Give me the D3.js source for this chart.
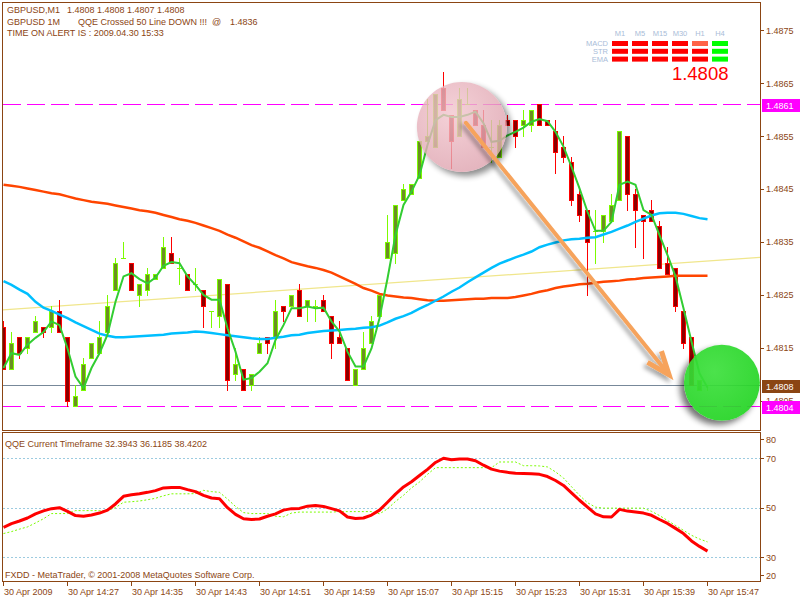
<!DOCTYPE html>
<html><head><meta charset="utf-8">
<script src="https://cdn.jsdelivr.net/npm/d3@7"></script>
<style>
html,body{margin:0;padding:0;background:#fff;}
svg{display:block;}
text{font-family:"Liberation Sans",Arial,sans-serif;}
</style></head>
<body>
<svg id="chart" width="800" height="600"></svg>
<script>
// ---------------- DATA ----------------
const timeTickBars = [0,8,16,24,32,40,48,56,64,72,80,88];
const timeTickLabels = ["30 Apr 2009","30 Apr 14:27","30 Apr 14:35","30 Apr 14:43","30 Apr 14:51","30 Apr 14:59","30 Apr 15:07","30 Apr 15:15","30 Apr 15:23","30 Apr 15:31","30 Apr 15:39","30 Apr 15:47"];
const priceTicks = [1.4875,1.4865,1.4855,1.4845,1.4835,1.4825,1.4815,1.4805];
const qqeTicks = [80,70,50,30,20];
const qqeLevels = [70,50,30];

const open = [1.4819,1.4811,1.4817,1.4815,1.4818,1.4819,1.4819,1.4822,1.4817,1.4804,1.4807,1.4813,1.4814,1.4818,1.4826,1.4832,1.4831,1.4825,1.4826,1.4828,1.4830,1.4833,1.4830,1.4829,1.4827,1.4826,1.4822,1.4821,1.4827,1.4810,1.4811,1.4808,1.4814,1.4817,1.4817,1.4823,1.4823,1.4826,1.4823,1.4823,1.4824,1.4821,1.4817,1.4815,1.4808,1.4811,1.4816,1.4821,1.4832,1.4833,1.4843,1.4844,1.4847,1.4854,1.4853,1.4864,1.4859,1.4855,1.4861,1.4860,1.4857,1.4853,1.4851,1.4858,1.4858,1.4857,1.4857,1.4861,1.4858,1.4856,1.4853,1.4850,1.4844,1.4841,1.4837,1.4837,1.4839,1.4843,1.4855,1.4844,1.4840,1.4841,1.4838,1.4831,1.4830,1.4822,1.4817,1.4807,1.4808];
const high = [1.4820,1.4818,1.4817,1.4817,1.4821,1.4819,1.4823,1.4824,1.4817,1.4808,1.4813,1.4816,1.4820,1.4825,1.4832,1.4835,1.4831,1.4827,1.4830,1.4829,1.4836,1.4836,1.4832,1.4829,1.4830,1.4826,1.4822,1.4828,1.4827,1.4815,1.4811,1.4810,1.4817,1.4817,1.4824,1.4823,1.4825,1.4827,1.4824,1.4824,1.4825,1.4821,1.4820,1.4815,1.4811,1.4818,1.4821,1.4825,1.4840,1.4842,1.4846,1.4846,1.4854,1.4862,1.4863,1.4867,1.4859,1.4864,1.4864,1.4860,1.4860,1.4858,1.4858,1.4859,1.4858,1.4860,1.4860,1.4861,1.4858,1.4858,1.4855,1.4851,1.4845,1.4841,1.4841,1.4840,1.4844,1.4856,1.4855,1.4845,1.4840,1.4843,1.4839,1.4834,1.4830,1.4822,1.4817,1.4809,1.4808];
const low = [1.4811,1.4811,1.4813,1.4814,1.4818,1.4817,1.4818,1.4818,1.4804,1.4804,1.4807,1.4813,1.4814,1.4818,1.4826,1.4832,1.4826,1.4823,1.4825,1.4828,1.4830,1.4831,1.4827,1.4826,1.4826,1.4819,1.4819,1.4819,1.4807,1.4809,1.4807,1.4807,1.4814,1.4814,1.4815,1.4820,1.4823,1.4821,1.4820,1.4820,1.4822,1.4813,1.4816,1.4809,1.4808,1.4811,1.4816,1.4821,1.4832,1.4831,1.4843,1.4844,1.4847,1.4854,1.4853,1.4860,1.4849,1.4855,1.4861,1.4857,1.4853,1.4850,1.4851,1.4857,1.4853,1.4855,1.4856,1.4857,1.4857,1.4848,1.4850,1.4842,1.4839,1.4825,1.4831,1.4835,1.4839,1.4843,1.4841,1.4834,1.4832,1.4839,1.4830,1.4829,1.4822,1.4815,1.4808,1.4807,1.4807];
const close = [1.4811,1.4816,1.4814,1.4817,1.4820,1.4818,1.4822,1.4818,1.4805,1.4806,1.4812,1.4816,1.4817,1.4823,1.4831,1.4832,1.4826,1.4827,1.4829,1.4829,1.4834,1.4831,1.4830,1.4826,1.4827,1.4823,1.4822,1.4828,1.4809,1.4812,1.4807,1.4810,1.4816,1.4816,1.4822,1.4822,1.4825,1.4821,1.4824,1.4823,1.4822,1.4816,1.4816,1.4809,1.4811,1.4815,1.4820,1.4825,1.4835,1.4842,1.4845,1.4846,1.4854,1.4855,1.4863,1.4860,1.4854,1.4862,1.4861,1.4857,1.4853,1.4853,1.4857,1.4857,1.4855,1.4858,1.4860,1.4857,1.4857,1.4852,1.4851,1.4843,1.4840,1.4835,1.4837,1.4840,1.4842,1.4856,1.4844,1.4841,1.4839,1.4839,1.4830,1.4829,1.4823,1.4816,1.4808,1.4809,1.4808];

// fast moving average (green)
const maFast = [1.48112,1.48140,1.48137,1.48156,1.48169,1.48180,1.48200,1.48193,1.48149,1.48096,1.48074,1.48112,1.48140,1.48175,1.48237,1.48285,1.48291,1.48280,1.48272,1.48283,1.48305,1.48312,1.48310,1.48285,1.48269,1.48250,1.48241,1.48241,1.48187,1.48143,1.48090,1.48093,1.48105,1.48121,1.48165,1.48193,1.48225,1.48225,1.48228,1.48225,1.48226,1.48200,1.48181,1.48143,1.48115,1.48115,1.48149,1.48206,1.48281,1.48363,1.48420,1.48445,1.48476,1.48533,1.48580,1.48590,1.48586,1.48586,1.48590,1.48596,1.48574,1.48539,1.48541,1.48551,1.48558,1.48566,1.48577,1.48582,1.48578,1.48558,1.48530,1.48492,1.48451,1.48407,1.48371,1.48371,1.48388,1.48458,1.48464,1.48458,1.48410,1.48401,1.48363,1.48325,1.48285,1.48225,1.48162,1.48102,1.48075];
// medium moving average (blue)
const maMid = [1.48276,1.48269,1.48260,1.48252,1.48237,1.48226,1.48220,1.48213,1.48206,1.48198,1.48191,1.48184,1.48177,1.48173,1.48170,1.48170,1.48171,1.48172,1.48173,1.48174,1.48175,1.48177,1.48178,1.48179,1.48181,1.48180,1.48178,1.48176,1.48174,1.48172,1.48170,1.48168,1.48167,1.48167,1.48169,1.48171,1.48174,1.48175,1.48178,1.48180,1.48182,1.48183,1.48184,1.48185,1.48186,1.48188,1.48189,1.48192,1.48198,1.48205,1.48210,1.48216,1.48224,1.48231,1.48239,1.48247,1.48256,1.48264,1.48274,1.48283,1.48292,1.48301,1.48309,1.48315,1.48321,1.48326,1.48332,1.48340,1.48345,1.48349,1.48353,1.48355,1.48356,1.48358,1.48359,1.48364,1.48369,1.48375,1.48381,1.48388,1.48394,1.48400,1.48404,1.48405,1.48405,1.48403,1.48399,1.48395,1.48393];
// slow moving average (orange)
const maSlow = [1.48458,1.48456,1.48454,1.48451,1.48448,1.48445,1.48442,1.48440,1.48436,1.48432,1.48429,1.48426,1.48424,1.48422,1.48419,1.48416,1.48413,1.48410,1.48408,1.48405,1.48401,1.48397,1.48393,1.48390,1.48386,1.48381,1.48376,1.48371,1.48364,1.48358,1.48351,1.48344,1.48339,1.48332,1.48325,1.48319,1.48312,1.48308,1.48304,1.48301,1.48297,1.48292,1.48285,1.48278,1.48271,1.48263,1.48258,1.48252,1.48249,1.48247,1.48245,1.48244,1.48242,1.48240,1.48239,1.48239,1.48240,1.48241,1.48242,1.48243,1.48243,1.48244,1.48244,1.48244,1.48246,1.48249,1.48252,1.48256,1.48259,1.48263,1.48266,1.48268,1.48270,1.48271,1.48273,1.48275,1.48276,1.48277,1.48279,1.48280,1.48282,1.48283,1.48284,1.48285,1.48286,1.48286,1.48286,1.48286,1.48286];
// khaki trend line anchors
const trendBars = [0, 88];
const trendPrices = [1.48222, 1.48314];
// horizontal levels
const dashedLevels = [1.4861, 1.4804];
const bidPrice = 1.4808;

// QQE sub-window
const qqeRsi = [42,43.5,44.6,45.8,47.5,48.7,49.6,50,48.5,46.8,46.5,47,47.8,49,51.5,54.6,55.2,55.6,56.2,56.9,58,58.2,58.2,57.3,56.5,55,53.9,53.6,50,47.3,45.5,45.2,45.4,46.5,47.5,49,49.6,49.7,50.6,50.9,50.5,49.6,48.7,46.2,45.6,45.8,47,49,52.2,55.5,58.4,60.5,63,65.5,68.3,70,69.4,69.7,69.7,69,67.2,65.6,64.8,64.3,63.9,63.8,63.7,63.5,62.6,61,59,56,53,50.2,47.5,46.3,46.2,49.3,48.6,48.2,47.8,46.9,45.2,43.6,41.6,39.5,36.5,34.3,32.39];
const qqeTrail = [39.5,40.3,41.3,42.2,43.8,45.5,47.6,47.6,47.6,48.8,48.8,48.8,48.8,48.8,50,52.2,52.4,52.7,53.2,53.8,54.8,55.6,55.6,55.6,55.7,57,56.5,56.2,53.5,50.5,48,47.6,47.6,47.6,46.5,46.3,47.8,48.2,48.2,48.2,48.2,48.2,48.4,48.4,48.4,48.4,48.4,47.5,49.5,52.5,55,58,60.4,63.5,66.2,66.2,66.2,66.2,66.2,66.2,66.2,66.2,68.5,68.5,68.5,67,67,66.9,66.5,64.5,62,58.5,55,52,50.2,49.8,49.8,49.8,49.8,49.8,49.8,48.5,46.8,44.8,42.8,40.8,38.8,37.3,36.12];
const qqeReadout = ["32.3943","36.1185","38.4202"];

// signal panel
const tfLabels = ["M1","M5","M15","M30","H1","H4"];
const sigRows = ["MACD","STR","EMA"];
const sigState = [
  ["dn","dn","dn","dn","weak","up"],
  ["dn","dn","dn","dn","dn","up"],
  ["dn","dn","dn","dn","dn","up"]
];
const sigColor = {dn:"#FF0000", weak:"#FF6347", up:"#00FF00"};

// annotations in data space
const pinkCircle = {bar:57.3, price:1.48567};
const arrowFrom = {bar:57.8, price:1.48575};
const arrowTo = {bar:83.2, price:1.48099};
const greenCircle = {bar:89.8, price:1.48084};

// ---------------- CHART ----------------
const FRAME = "#8B4513";
const svg = d3.select("#chart");
svg.append("rect").attr("width",800).attr("height",600).attr("fill","#fff");
const defs = svg.append("defs");

const x = d3.scaleLinear().domain([0,88]).range([3.5,707.5]);
const y = d3.scaleLinear().domain([1.47995,1.48803]).range([430,2]);
const qy = d3.scaleLinear().domain([20,80]).range([581.7,433.6]);
const py = v => Math.round(y(v)) + 0.5;

defs.append("clipPath").attr("id","cm").append("rect").attr("x",3).attr("y",3).attr("width",757).attr("height",427);
defs.append("clipPath").attr("id","cs").append("rect").attr("x",3).attr("y",433).attr("width",757).attr("height",148);
const fb = defs.append("filter").attr("id","blur").attr("x","-50%").attr("y","-50%").attr("width","200%").attr("height","200%");
fb.append("feGaussianBlur").attr("stdDeviation",3);
const fa = defs.append("filter").attr("id","ashadow").attr("x","-20%").attr("y","-20%").attr("width","140%").attr("height","140%");
fa.append("feDropShadow").attr("dx",-3).attr("dy",3).attr("stdDeviation",2).attr("flood-color","#000").attr("flood-opacity",0.35);

const pg = defs.append("radialGradient").attr("id","pinkG").attr("cx","40%").attr("cy","35%").attr("r","70%");
pg.append("stop").attr("offset","0%").attr("stop-color","#F2C6CE");
pg.append("stop").attr("offset","100%").attr("stop-color","#DDA1AD");
const gg = defs.append("radialGradient").attr("id","greenG").attr("cx","40%").attr("cy","35%").attr("r","70%");
gg.append("stop").attr("offset","0%").attr("stop-color","#3EE03E");
gg.append("stop").attr("offset","100%").attr("stop-color","#24D424");

// panel frames
svg.append("rect").attr("x",2.5).attr("y",2.5).attr("width",758).attr("height",428).attr("fill","none").attr("stroke",FRAME);
svg.append("rect").attr("x",2.5).attr("y",432.5).attr("width",758).attr("height",149).attr("fill","none").attr("stroke",FRAME);

const main = svg.append("g").attr("clip-path","url(#cm)");

// trend line (khaki)
const tl = d3.scaleLinear().domain(trendBars).range(trendPrices);
main.append("line").attr("x1",x(0)-2).attr("y1",y(tl(x.invert(x(0)-2)))).attr("x2",760).attr("y2",y(tl(x.invert(760))))
  .attr("stroke","#F0E68C").attr("stroke-width",1.2);

// horizontal levels
main.selectAll("line.dl").data(dashedLevels).join("line").attr("class","dl")
  .attr("x1",3).attr("x2",760).attr("y1",d=>py(d)).attr("y2",d=>py(d))
  .attr("stroke","#FF00FF").attr("stroke-dasharray","18,6");
main.append("line").attr("x1",3).attr("x2",760).attr("y1",py(bidPrice)).attr("y2",py(bidPrice)).attr("stroke","#778899");

// candles
const bars = d3.range(open.length).map(i=>({i,o:open[i],h:high[i],l:low[i],c:close[i]}));
const gC = main.append("g");
bars.forEach(d=>{
  const bull = d.c >= d.o;
  const col = bull ? "#7CFC00" : "#FF0000";
  const fill = bull ? "#6B8E23" : "#8B0000";
  const cx = x(d.i);
  gC.append("line").attr("x1",cx).attr("x2",cx).attr("y1",py(d.h)-0.5).attr("y2",py(d.l)+0.5).attr("stroke",col);
  const y1 = py(Math.max(d.o,d.c)), y2 = py(Math.min(d.o,d.c));
  if (y2 - y1 < 1) {
    gC.append("line").attr("x1",cx-2.5).attr("x2",cx+2.5).attr("y1",y1).attr("y2",y1).attr("stroke",col);
  } else {
    gC.append("rect").attr("x",cx-2).attr("y",y1).attr("width",4).attr("height",y2-y1).attr("fill",fill).attr("stroke",col);
  }
});

// moving averages
const ln = d3.line().x((d,i)=>x(i)).y(d=>y(d));
main.append("path").attr("d",ln(maSlow)).attr("fill","none").attr("stroke","#FF4500").attr("stroke-width",2.5);
main.append("path").attr("d",ln(maMid)).attr("fill","none").attr("stroke","#00BFFF").attr("stroke-width",2.5);
main.append("path").attr("d",ln(maFast)).attr("fill","none").attr("stroke","#32CD32").attr("stroke-width",2);

// pink circle annotation
const pcx = x(pinkCircle.bar), pcy = y(pinkCircle.price), pr = 45;
const mp = defs.append("mask").attr("id","mPink").attr("maskUnits","userSpaceOnUse").attr("x",0).attr("y",0).attr("width",800).attr("height",600);
mp.append("rect").attr("width",800).attr("height",600).attr("fill","#fff");
mp.append("circle").attr("cx",pcx).attr("cy",pcy).attr("r",pr).attr("fill","#000");
main.append("g").attr("mask","url(#mPink)").append("circle").attr("cx",pcx+4).attr("cy",pcy+4).attr("r",pr)
  .attr("fill","#000").attr("opacity",0.45).attr("filter","url(#blur)");
main.append("circle").attr("cx",pcx).attr("cy",pcy).attr("r",pr).attr("fill","url(#pinkG)").attr("opacity",0.8);

// arrow annotation
const ax0 = x(arrowFrom.bar), ay0 = y(arrowFrom.price), ax1 = x(arrowTo.bar), ay1 = y(arrowTo.price);
const ang = Math.atan2(ay1-ay0, ax1-ax0) + Math.PI;
const hl = 25, ha = 21*Math.PI/180;
const w1 = [ax1 + hl*Math.cos(ang-ha), ay1 + hl*Math.sin(ang-ha)];
const w2 = [ax1 + hl*Math.cos(ang+ha), ay1 + hl*Math.sin(ang+ha)];
const ag = main.append("g").attr("filter","url(#ashadow)");
ag.append("line").attr("x1",ax0).attr("y1",ay0).attr("x2",ax1-4).attr("y2",ay1-5)
  .attr("stroke","#F6A35C").attr("stroke-width",4).attr("stroke-linecap","round");
ag.append("path").attr("d",`M${w1[0]},${w1[1]}L${ax1},${ay1}L${w2[0]},${w2[1]}`)
  .attr("fill","none").attr("stroke","#F6A35C").attr("stroke-width",5).attr("stroke-linejoin","miter");

// green circle annotation
const gcx = x(greenCircle.bar), gcy = y(greenCircle.price), gr = 38;
const mg = defs.append("mask").attr("id","mGreen").attr("maskUnits","userSpaceOnUse").attr("x",0).attr("y",0).attr("width",800).attr("height",600);
mg.append("rect").attr("width",800).attr("height",600).attr("fill","#fff");
mg.append("circle").attr("cx",gcx).attr("cy",gcy).attr("r",gr).attr("fill","#000");
main.append("g").attr("mask","url(#mGreen)").append("circle").attr("cx",gcx-4).attr("cy",gcy+4).attr("r",gr)
  .attr("fill","#000").attr("opacity",0.55).attr("filter","url(#blur)");
main.append("circle").attr("cx",gcx).attr("cy",gcy).attr("r",gr).attr("fill","url(#greenG)").attr("opacity",0.93);

// right price axis
const axR = svg.append("g");
priceTicks.forEach(p=>{
  axR.append("line").attr("x1",761).attr("x2",764).attr("y1",py(p)).attr("y2",py(p)).attr("stroke",FRAME);
  axR.append("text").attr("x",766).attr("y",y(p)+3.5).attr("font-size",9).attr("fill",FRAME).text(p.toFixed(4));
});
const markers = [{p:dashedLevels[0],bg:"#FF00FF"},{p:bidPrice,bg:"#8B4513"},{p:dashedLevels[1],bg:"#FF00FF"}];
markers.forEach(m=>{
  axR.append("rect").attr("x",762).attr("y",Math.round(y(m.p))-5).attr("width",38).attr("height",13).attr("fill",m.bg);
  axR.append("text").attr("x",766).attr("y",Math.round(y(m.p))+5).attr("font-size",9).attr("fill","#fff").text(m.p.toFixed(4));
});

// title texts
const tt = svg.append("g").attr("font-size",9).attr("fill",FRAME);
const t1 = tt.append("text").attr("y",13);
t1.append("tspan").attr("x",7).text("GBPUSD,M1");
t1.append("tspan").attr("x",67).text("1.4808 1.4808 1.4807 1.4808");
const t2 = tt.append("text").attr("y",24.5);
t2.append("tspan").attr("x",7).text("GBPUSD 1M");
t2.append("tspan").attr("x",78).text("QQE Crossed 50 Line DOWN !!!");
t2.append("tspan").attr("x",212).text("@");
t2.append("tspan").attr("x",230).text("1.4836");
tt.append("text").attr("x",7).attr("y",36).text("TIME ON ALERT IS : 2009.04.30 15:33");

// signal panel
const sp = svg.append("g");
tfLabels.forEach((t,k)=>{
  sp.append("text").attr("x",620+20*k).attr("y",36).attr("text-anchor","middle").attr("font-size",7.5)
    .attr("font-family","DejaVu Sans").attr("fill","#A9BCD8").text(t);
});
sigRows.forEach((r,j)=>{
  const yy = 41 + j*7.8;
  sp.append("text").attr("x",608).attr("y",yy+5).attr("text-anchor","end").attr("font-size",7.5)
    .attr("font-family","DejaVu Sans").attr("fill","#A9BCD8").text(r);
  sigState[j].forEach((s,k)=>{
    sp.append("rect").attr("x",612+20*k).attr("y",yy).attr("width",16).attr("height",5).attr("fill",sigColor[s]);
  });
});
sp.append("text").attr("x",728.5).attr("y",80).attr("text-anchor","end").attr("font-size",18.5).attr("fill","#FF0000").text(bidPrice.toFixed(4));

// ---------------- QQE sub-window ----------------
const sub = svg.append("g").attr("clip-path","url(#cs)");
sub.selectAll("line.lv").data(qqeLevels).join("line").attr("class","lv")
  .attr("x1",3).attr("x2",760).attr("y1",d=>Math.round(qy(d))+0.5).attr("y2",d=>Math.round(qy(d))+0.5)
  .attr("stroke","#9CCBE0").attr("stroke-dasharray","2,2");
const ql = d3.line().x((d,i)=>x(i)).y(d=>qy(d));
sub.append("path").attr("d",ql(qqeTrail)).attr("fill","none").attr("stroke","#7CFC00").attr("stroke-width",1).attr("stroke-dasharray","2,2");
sub.append("path").attr("d",ql(qqeRsi)).attr("fill","none").attr("stroke","#FF0000").attr("stroke-width",3).attr("stroke-linejoin","round");

svg.append("text").attr("x",5).attr("y",447).attr("font-size",9).attr("fill",FRAME)
  .text("QQE Current Timeframe " + qqeReadout.join(" "));
svg.append("text").attr("x",5).attr("y",578).attr("font-size",9).attr("fill",FRAME)
  .text("FXDD - MetaTrader, © 2001-2008 MetaQuotes Software Corp.");

qqeTicks.forEach(v=>{
  const yy = Math.min(Math.max(qy(v),439),575);
  svg.append("line").attr("x1",761).attr("x2",764).attr("y1",Math.round(yy)+0.5).attr("y2",Math.round(yy)+0.5).attr("stroke",FRAME);
  svg.append("text").attr("x",766).attr("y",yy+3.5).attr("font-size",9).attr("fill",FRAME).text(v);
});

// time axis
timeTickBars.forEach((b,k)=>{
  svg.append("line").attr("x1",Math.floor(x(b))+0.5).attr("x2",Math.floor(x(b))+0.5).attr("y1",582).attr("y2",586).attr("stroke",FRAME);
  svg.append("text").attr("x",Math.floor(x(b))+1).attr("y",595).attr("font-size",9).attr("fill",FRAME).text(timeTickLabels[k]);
});
</script>
</body></html>
